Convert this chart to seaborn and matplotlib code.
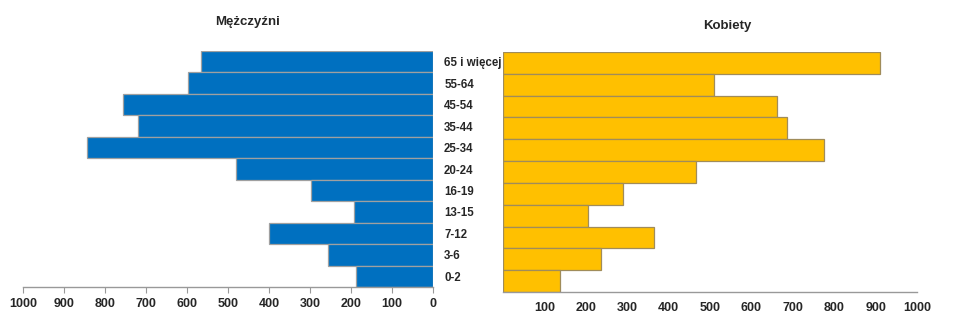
import matplotlib
matplotlib.use("Agg")
import matplotlib.pyplot as plt
import seaborn as sns
import pandas as pd

categories = ["65 i więcej", "55-64", "45-54", "35-44", "25-34", "20-24",
              "16-19", "13-15", "7-12", "3-6", "0-2"]
men = [567, 598, 757, 720, 845, 481, 298, 193, 399, 257, 189]
women = [911, 509, 663, 687, 776, 466, 290, 206, 365, 237, 138]
left_ticks = [0, 100, 200, 300, 400, 500, 600, 700, 800, 900, 1000]
right_ticks = [100, 200, 300, 400, 500, 600, 700, 800, 900, 1000]

sns.set_theme(style="white")
plt.rcParams['font.family'] = ['Liberation Sans', 'DejaVu Sans']

W, H = 965, 330
fig = plt.figure(figsize=(W / 100, H / 100), dpi=100)

def ax_px(x0, y0, x1, y1):
    return fig.add_axes([x0 / W, 1 - y1 / H, (x1 - x0) / W, (y1 - y0) / H])

df_m = pd.DataFrame({"cat": categories, "val": men})
df_w = pd.DataFrame({"cat": categories, "val": women})

axR = ax_px(503, 52, 917, 292)
axL = ax_px(23, 51, 433, 287)
axL.set_zorder(3)
axL.patch.set_alpha(0)
axR.patch.set_alpha(0)

sns.barplot(data=df_m, x="val", y="cat", order=categories, orient="h",
            color="#0070C0", saturation=1, width=1.0, edgecolor="#A0A0A0",
            linewidth=0.9, ax=axL)
sns.barplot(data=df_w, x="val", y="cat", order=categories, orient="h",
            color="#FFC000", saturation=1, width=1.0, edgecolor="#A08C5A",
            linewidth=0.9, ax=axR)

axL.set_xlim(1000, 0)
axR.set_xlim(0, 1000)
for ax in (axL, axR):
    ax.set_ylim(len(categories) - 0.5, -0.5)
    ax.set_xlabel("")
    ax.set_ylabel("")
    for s in ("top", "left", "right"):
        ax.spines[s].set_visible(False)
    ax.spines["bottom"].set_color("#999999")
    ax.spines["bottom"].set_linewidth(1.0)
    ax.grid(False)

axL.set_xticks(left_ticks)
axL.set_xticklabels([str(t) for t in left_ticks], fontsize=9, fontweight="bold")
axL.tick_params(axis="x", length=4, width=0.8, color="#999999", pad=4, bottom=True)

axR.set_xticks(right_ticks)
axR.set_xticklabels([str(t) for t in right_ticks], fontsize=9, fontweight="bold")
axR.tick_params(axis="x", length=0, pad=7)

# category labels between panels
axL.yaxis.tick_right()
axL.set_yticks(range(len(categories)))
axL.set_yticklabels(categories, fontsize=8.3, fontweight="bold", ha="left")
axL.tick_params(axis="y", length=0, pad=8)
axR.set_yticks([])

fig.text(248 / W, 1 - 22 / H, "Mężczyźni", ha="center", va="center",
         fontsize=9.5, fontweight="bold")
fig.text(727 / W, 1 - 26 / H, "Kobiety", ha="center", va="center",
         fontsize=9.5, fontweight="bold")

fig.savefig("out.png", dpi=100, facecolor="white")
